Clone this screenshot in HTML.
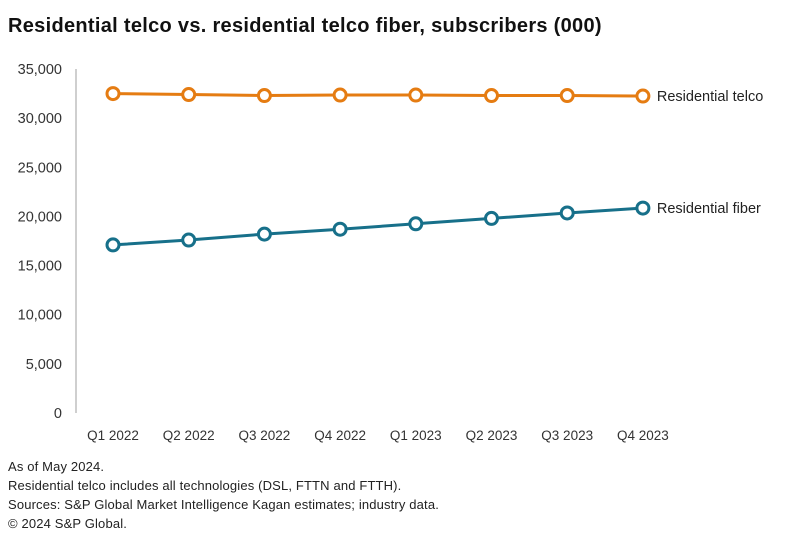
<!DOCTYPE html>
<html><head><meta charset="utf-8"><style>
body{margin:0;background:#fff;font-family:"Liberation Sans",sans-serif;}
#w{position:relative;width:790px;height:545px;overflow:hidden;}
.t{position:absolute;left:8px;top:15px;font-size:20px;font-weight:bold;color:#111;letter-spacing:0.3px;}
.n{position:absolute;left:8px;font-size:13px;color:#222;letter-spacing:0.15px;}
</style></head><body>
<div id="w">
<div class="t">Residential telco vs. residential telco fiber, subscribers (000)</div>
<svg id="s" width="790" height="545" style="position:absolute;left:0;top:0"></svg>
<div class="n" style="top:459px">As of May 2024.</div>
<div class="n" style="top:478px">Residential telco includes all technologies (DSL, FTTN and FTTH).</div>
<div class="n" style="top:497px">Sources: S&amp;P Global Market Intelligence Kagan estimates; industry data.</div>
<div class="n" style="top:516px">© 2024 S&amp;P Global.</div>
</div>
<script>
const categories=["Q1 2022","Q2 2022","Q3 2022","Q4 2022","Q1 2023","Q2 2023","Q3 2023","Q4 2023"];
const telco=[32500,32400,32300,32350,32350,32300,32300,32250];
const fiber=[17100,17600,18200,18700,19250,19800,20350,20850];
const yTicks=[0,5000,10000,15000,20000,25000,30000,35000];
const NS="http://www.w3.org/2000/svg",s=document.getElementById('s');
const x=i=>113+i*75.7, y=v=>413-v/35000*344;
function mk(t,a,txt){const e=document.createElementNS(NS,t);for(const k in a)e.setAttribute(k,a[k]);if(txt)e.textContent=txt;s.appendChild(e);return e;}
const ax=mk('line',{x1:76,y1:69,x2:76,y2:413,stroke:'#bfbfbf','stroke-width':1.5});


yTicks.forEach(v=>{const e=mk('text',{x:62,y:y(v)+5,'text-anchor':'end','font-size':14.5,fill:'#333','font-family':'Liberation Sans'},v.toLocaleString('en-US'));

});
categories.forEach((c,i)=>{const e=mk('text',{x:x(i),y:440,'text-anchor':'middle','font-size':13.5,fill:'#333','font-family':'Liberation Sans'},c);

});
function series(d,col,name,label){
const p=mk('polyline',{points:d.map((v,i)=>x(i)+','+y(v)).join(' '),fill:'none',stroke:col,'stroke-width':3});


d.forEach((v,i)=>{const c=mk('circle',{cx:x(i),cy:y(v),r:6,fill:'#fff',stroke:col,'stroke-width':3});

});
const l=mk('text',{x:x(d.length-1)+14,y:y(d[d.length-1])+5,'font-size':14.5,fill:'#222','font-family':'Liberation Sans'},label);

}
series(telco,'#E57C12','telco','Residential telco');
series(fiber,'#17708A','fiber','Residential fiber');
</script>
</body></html>
